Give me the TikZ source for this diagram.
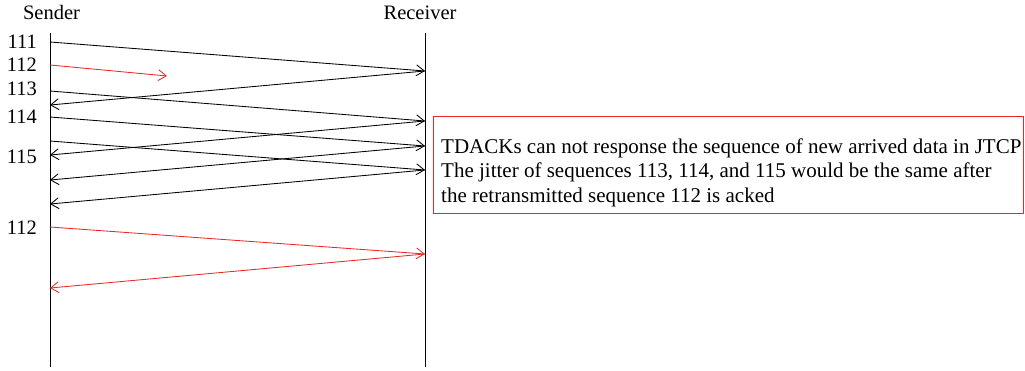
\documentclass[tikz,border=0pt]{standalone}
\usepackage{fontspec}
\setmainfont{Liberation Serif}
\usetikzlibrary{arrows.meta}
\definecolor{msgred}{RGB}{235,40,40}
\begin{document}
\begin{tikzpicture}[x=1pt,y=-1pt,
  life/.style={line width=0.9pt},
  msg/.style={line width=0.85pt,-{Straight Barb[length=8pt,width=11pt,line width=0.85pt]}},
  redmsg/.style={msg,draw=msgred},
  lbl/.style={font=\fontsize{20.5}{24}\selectfont,inner sep=0pt},
  note/.style={font=\fontsize{21}{24.5}\selectfont,align=left,inner sep=0pt},
  notebox/.style={draw=msgred,line width=0.8pt}]
\useasboundingbox (0,0) rectangle (1025,370);
% lifelines
\coordinate (sT) at (50,33); \coordinate (sB) at (50,367);
\coordinate (rT) at (425,33); \coordinate (rB) at (425,367);
\draw[life] (sT) -- (sB);
\draw[life] (rT) -- (rB);
\node[lbl,anchor=base] (sender) at (51.5,19) {Sender};
\node[lbl,anchor=base] (receiver) at (420,19) {Receiver};
% labels
\node[lbl,anchor=base east] (l111) at (37,48) {111};
\node[lbl,anchor=base east] (l112) at (37,71) {112};
\node[lbl,anchor=base east] (l113) at (37,95) {113};
\node[lbl,anchor=base east] (l114) at (37,123) {114};
\node[lbl,anchor=base east] (l115) at (37,163) {115};
\node[lbl,anchor=base east] (l112b) at (37,234) {112};
% sender points
\coordinate (s111) at (50,42);
\coordinate (s112) at (50,65);
\coordinate (s113) at (50,91);
\coordinate (a1) at (50,105);
\coordinate (s114) at (50,117);
\coordinate (s115) at (50,141);
\coordinate (a2) at (50,155);
\coordinate (a3) at (50,180);
\coordinate (a4) at (50,204);
\coordinate (s112b) at (50,227);
\coordinate (a5) at (50,288);
\coordinate (lost) at (167,76);
% receiver points
\coordinate (r1) at (425,71);
\coordinate (r2) at (425,121);
\coordinate (r3) at (425,146);
\coordinate (r4) at (425,170);
\coordinate (r5) at (425,254);
% messages
\draw[msg] (s111) -- (r1);
\draw[redmsg] (s112) -- (lost);
\draw[msg] (r1) -- (a1);
\draw[msg] (s113) -- (r2);
\draw[msg] (s114) -- (r3);
\draw[msg] (r2) -- (a2);
\draw[msg] (s115) -- (r4);
\draw[msg] (r3) -- (a3);
\draw[msg] (r4) -- (a4);
\draw[redmsg] (s112b) -- (r5);
\draw[redmsg] (r5) -- (a5);
% note
\coordinate (nbTL) at (433,116);
\coordinate (nbBR) at (1023.5,213);
\draw[notebox] (nbTL) rectangle (nbBR);
\node[note,anchor=north west] (note) at (441,138.5) {TDACKs can not response the sequence of new arrived data in JTCP\\The jitter of sequences 113, 114, and 115 would be the same after\\the retransmitted sequence 112 is acked};
\end{tikzpicture}
\end{document}
